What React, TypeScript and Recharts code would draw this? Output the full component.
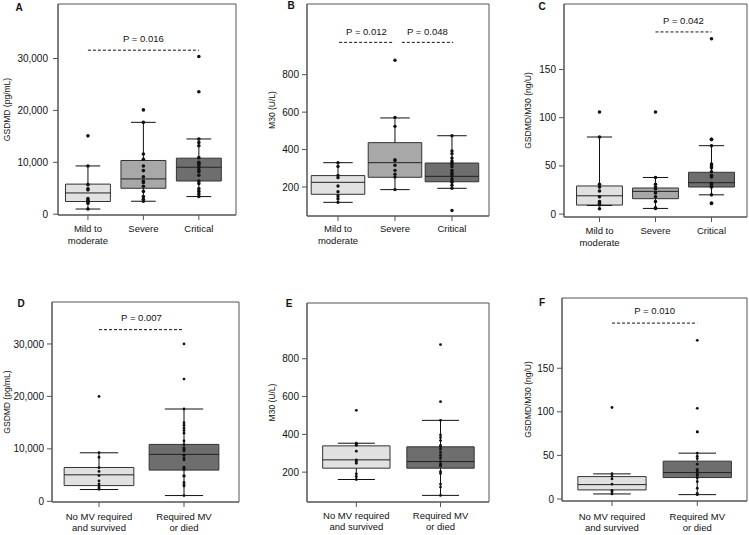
import React from "react";
import {
  ComposedChart,
  XAxis,
  YAxis,
  Scatter,
  ReferenceArea,
  ReferenceLine,
} from "recharts";

const severityGroups = ["Mild to\nmoderate", "Severe", "Critical"];
const outcomeGroups = ["No MV required\nand survived", "Required MV\nor died"];
const severityFills = ["#e1e1e1", "#a8a8a8", "#6e6e6e"];
const outcomeFills = ["#e1e1e1", "#6e6e6e"];

// box stats: [whisker low, Q1, median, Q3, whisker high]
// A - GSDMD (pg/mL) by severity
const gsdmdMild = [15100, 9300, 5700, 4900, 4700, 3000, 2700, 2400, 2100, 1000];
const gsdmdSevere = [20100, 17700, 11600, 10600, 9300, 8400, 7200, 6400, 6100, 5400, 4400, 3400, 2900, 2500];
const gsdmdCritical = [30400, 23600, 14500, 13800, 13200, 10900, 10000, 9800, 9500, 9000, 8500, 8200, 7500, 6400, 5900, 4900, 4400, 3900, 3400];
const gsdmdSeverityBoxes = [
  [1000, 2450, 4100, 5800, 9300],
  [2500, 5000, 6800, 10350, 17700],
  [3400, 6400, 9050, 10800, 14500],
];

// B - M30 (U/L) by severity
const m30Mild = [330, 310, 262, 250, 205, 175, 152, 137, 118];
const m30Severe = [877, 572, 524, 346, 342, 316, 289, 268, 253, 186];
const m30Critical = [474, 392, 378, 355, 339, 330, 320, 308, 289, 277, 268, 257, 243, 234, 225, 210, 193, 74];
const m30SeverityBoxes = [
  [118, 161, 225, 261, 330],
  [186, 252, 330, 437, 569],
  [193, 228, 257, 328, 474],
];

// C - GSDMD/M30 (ng/U) by severity
const ratioMild = [106, 80, 31, 28, 24, 18, 13, 11, 9.4, 5.6];
const ratioSevere = [106, 38, 31, 28, 26, 22, 18, 13, 6.6, 5.9];
const ratioCritical = [182, 77.5, 77.5, 71, 52, 50, 48, 44, 40, 38.5, 32, 30.5, 29, 28, 20, 11.5, 11];
const ratioSeverityBoxes = [
  [9, 9.4, 19, 29.2, 80],
  [5.9, 16, 23.6, 27.1, 38],
  [20, 28.1, 32.6, 43.4, 71],
];

// D - GSDMD (pg/mL) by outcome
const gsdmdNoMv = [20000, 9300, 8400, 6400, 5700, 4900, 3900, 3300, 2900, 2600, 2300];
const gsdmdMv = [30000, 23300, 17600, 15000, 14500, 14000, 13500, 13000, 11500, 10800, 10200, 10000, 9800, 9600, 8800, 8300, 7900, 6500, 6300, 6000, 4900, 4800, 3600, 3200, 2900, 1100];
const gsdmdOutcomeBoxes = [
  [2250, 3000, 5050, 6450, 9250],
  [1100, 5950, 8950, 10850, 17600],
];

// E - M30 (U/L) by outcome
const m30NoMv = [527, 353, 348, 342, 311, 265, 258, 247, 191, 177, 161];
const m30Mv = [875, 573, 474, 397, 383, 367, 342, 334, 321, 304, 288, 274, 256, 242, 237, 232, 202, 193, 137, 121, 77];
const m30OutcomeBoxes = [
  [161, 221, 265, 339, 353],
  [77, 221, 256, 334, 474],
];

// F - GSDMD/M30 (ng/U) by outcome
const ratioNoMv = [105, 29, 26, 23, 17, 10, 8.4, 5.8];
const ratioMv = [182, 104, 77, 77, 52.6, 49, 46.4, 39.9, 34, 32, 30.3, 28.4, 26.5, 24, 20, 12.3, 6.5, 5];
const ratioOutcomeBoxes = [
  [5.8, 10.4, 16.5, 25.7, 28.8],
  [5, 24.6, 30.3, 43.4, 52.6],
];

type Bracket = { from: number; to: number; y: number; text: string; offset: number };

type PanelSpec = {
  letter: string;
  letterPos: [number, number];
  left: number;
  top: number;
  width: number;
  height: number;
  mTop: number;
  mRight: number;
  yWidth: number;
  xHeight: number;
  xDomain: [number, number];
  yDomain: [number, number];
  yTicks: number[];
  yLabel: string;
  yLabelX: number;
  yTickMargin: number;
  groups: string[];
  fills: string[];
  points: number[][];
  boxes: number[][];
  brackets: Bracket[];
  boxHalf: number;
  dotR: number;
  catDy: number;
  catGap: number;
};

const ink = "#111";
const frame = "#555";

const panels: PanelSpec[] = [
  {
    letter: "A", letterPos: [19, 7],
    left: 0, top: 0, width: 245, height: 262, mTop: 4, mRight: 9, yWidth: 58, xHeight: 47,
    xDomain: [0.46, 3.67], yDomain: [-150, 40500], yTicks: [0, 10000, 20000, 30000],
    yLabel: "GSDMD (pg/mL)", yLabelX: 7, yTickMargin: 5,
    groups: severityGroups, fills: severityFills,
    points: [gsdmdMild, gsdmdSevere, gsdmdCritical], boxes: gsdmdSeverityBoxes,
    brackets: [{ from: 1, to: 3, y: 31600, text: "P = 0.016", offset: 8 }],
    boxHalf: 0.405, dotR: 1.8, catDy: 9.5, catGap: 12,
  },
  {
    letter: "B", letterPos: [291, 5],
    left: 250, top: 0, width: 245, height: 262, mTop: 4, mRight: 6, yWidth: 57, xHeight: 46,
    xDomain: [0.456, 3.65], yDomain: [45, 1178], yTicks: [200, 400, 600, 800],
    yLabel: "M30 (U/L)", yLabelX: 22, yTickMargin: 3,
    groups: severityGroups, fills: severityFills,
    points: [m30Mild, m30Severe, m30Critical], boxes: m30SeverityBoxes,
    brackets: [
      { from: 1.02, to: 1.98, y: 973, text: "P = 0.012", offset: 7 },
      { from: 2.12, to: 3.02, y: 973, text: "P = 0.048", offset: 7 },
    ],
    boxHalf: 0.47, dotR: 1.7, catDy: 8.5, catGap: 12,
  },
  {
    letter: "C", letterPos: [542, 6],
    left: 500, top: 0, width: 249, height: 262, mTop: 4, mRight: 2, yWidth: 64, xHeight: 45,
    xDomain: [0.366, 3.634], yDomain: [-3, 218], yTicks: [0, 50, 100, 150],
    yLabel: "GSDMD/M30 (ng/U)", yLabelX: 28, yTickMargin: 3,
    groups: severityGroups, fills: severityFills,
    points: [ratioMild, ratioSevere, ratioCritical], boxes: ratioSeverityBoxes,
    brackets: [{ from: 2, to: 3, y: 189, text: "P = 0.042", offset: 8 }],
    boxHalf: 0.41, dotR: 1.8, catDy: 9.5, catGap: 12,
  },
  {
    letter: "D", letterPos: [21, 303],
    left: 0, top: 265, width: 245, height: 270, mTop: 37, mRight: 6, yWidth: 52, xHeight: 33,
    xDomain: [0.447, 2.647], yDomain: [-130, 38000], yTicks: [0, 10000, 20000, 30000],
    yLabel: "GSDMD (pg/mL)", yLabelX: 7, yTickMargin: 3,
    groups: outcomeGroups, fills: outcomeFills,
    points: [gsdmdNoMv, gsdmdMv], boxes: gsdmdOutcomeBoxes,
    brackets: [{ from: 1, to: 2, y: 32730, text: "P = 0.007", offset: 9 }],
    boxHalf: 0.41, dotR: 1.4, catDy: 10.7, catGap: 11,
  },
  {
    letter: "E", letterPos: [289, 303],
    left: 250, top: 265, width: 245, height: 270, mTop: 38, mRight: 6, yWidth: 57, xHeight: 33,
    xDomain: [0.414, 2.576], yDomain: [42, 1095], yTicks: [200, 400, 600, 800],
    yLabel: "M30 (U/L)", yLabelX: 22, yTickMargin: 3,
    groups: outcomeGroups, fills: outcomeFills,
    points: [m30NoMv, m30Mv], boxes: m30OutcomeBoxes,
    brackets: [],
    boxHalf: 0.4, dotR: 1.4, catDy: 10.4, catGap: 11,
  },
  {
    letter: "F", letterPos: [542, 302],
    left: 500, top: 265, width: 249, height: 270, mTop: 33, mRight: 2, yWidth: 62, xHeight: 34,
    xDomain: [0.414, 2.583], yDomain: [-2.3, 230.6], yTicks: [0, 50, 100, 150],
    yLabel: "GSDMD/M30 (ng/U)", yLabelX: 28, yTickMargin: 3,
    groups: outcomeGroups, fills: outcomeFills,
    points: [ratioNoMv, ratioMv], boxes: ratioOutcomeBoxes,
    brackets: [{ from: 1, to: 2, y: 201.8, text: "P = 0.010", offset: 9 }],
    boxHalf: 0.4, dotR: 1.4, catDy: 12, catGap: 11,
  },
];

function Panel({ s }: { s: PanelSpec }) {
  const pts = s.points.flatMap((vals, i) => vals.map((v) => ({ x: i + 1, y: v })));
  const plotH = s.height - s.mTop - s.xHeight;
  const labelY = s.mTop + plotH / 2;
  const cap = s.boxHalf * 0.55;
  const catTicks = s.groups.map((_, i) => i + 1);

  return (
    <div style={{ position: "absolute", left: s.left, top: s.top }}>
      <ComposedChart
        width={s.width}
        height={s.height}
        margin={{ top: s.mTop, right: s.mRight, bottom: 0, left: 0 }}
      >
        <XAxis
          type="number"
          dataKey="x"
          domain={s.xDomain}
          ticks={catTicks}
          interval={0}
          allowDataOverflow
          height={s.xHeight}
          tickSize={5}
          tickMargin={2}
          stroke={frame}
          tick={(p: any) => {
            const lines = s.groups[Math.round(p.payload.value) - 1].split("\n");
            return (
              <text x={p.x} y={p.y} textAnchor="middle" fontSize={9.5} fill={ink}>
                {lines.map((l, i) => (
                  <tspan key={i} x={p.x} dy={i === 0 ? s.catDy : s.catGap}>
                    {l}
                  </tspan>
                ))}
              </text>
            );
          }}
        />
        <YAxis
          type="number"
          dataKey="y"
          domain={s.yDomain}
          ticks={s.yTicks}
          allowDataOverflow
          width={s.yWidth}
          tickSize={5}
          tickMargin={s.yTickMargin}
          stroke={frame}
          tick={{ fill: ink, fontSize: 10 }}
          tickFormatter={(v: number) => v.toLocaleString("en-US")}
          label={() => (
            <text
              x={s.yLabelX}
              y={labelY}
              transform={`rotate(-90 ${s.yLabelX} ${labelY})`}
              textAnchor="middle"
              dominantBaseline="central"
              fontSize={8.5}
              fill={ink}
            >
              {s.yLabel}
            </text>
          )}
        />

        {/* plot frame */}
        <ReferenceArea
          x1={s.xDomain[0]}
          x2={s.xDomain[1]}
          y1={s.yDomain[0]}
          y2={s.yDomain[1]}
          fill="none"
          stroke={frame}
          fillOpacity={0}
        />

        {s.boxes.map(([lo, q1, med, q3, hi], i) => {
          const x = i + 1;
          return (
            <React.Fragment key={`box-${i}`}>
              <ReferenceLine segment={[{ x, y: lo }, { x, y: q1 }]} stroke={ink} />
              <ReferenceLine segment={[{ x, y: q3 }, { x, y: hi }]} stroke={ink} />
              <ReferenceLine segment={[{ x: x - cap, y: lo }, { x: x + cap, y: lo }]} stroke={ink} />
              <ReferenceLine segment={[{ x: x - cap, y: hi }, { x: x + cap, y: hi }]} stroke={ink} />
              <ReferenceArea
                x1={x - s.boxHalf}
                x2={x + s.boxHalf}
                y1={q1}
                y2={q3}
                fill={s.fills[i]}
                fillOpacity={1}
                stroke="#333"
              />
              <ReferenceLine
                segment={[{ x: x - s.boxHalf, y: med }, { x: x + s.boxHalf, y: med }]}
                stroke="#222"
              />
            </React.Fragment>
          );
        })}

        {s.brackets.map((b, i) => (
          <ReferenceLine
            key={`p-${i}`}
            segment={[{ x: b.from, y: b.y }, { x: b.to, y: b.y }]}
            stroke="#111"
            strokeDasharray="3 2"
            label={{ value: b.text, position: "top", offset: b.offset, fontSize: 9.5, fill: ink }}
          />
        ))}

        <Scatter
          data={pts}
          dataKey="y"
          isAnimationActive={false}
          shape={(p: any) => <circle cx={p.cx} cy={p.cy} r={s.dotR} fill="#111" />}
        />
      </ComposedChart>
    </div>
  );
}

export default function App() {
  return (
    <div
      style={{
        position: "absolute",
        left: 0,
        top: 0,
        width: 749,
        height: 535,
        background: "#fff",
        fontFamily: "'Liberation Sans', Arial, sans-serif",
      }}
    >
      {panels.map((s) => (
        <Panel key={s.letter} s={s} />
      ))}
      {panels.map((s) => (
        <div
          key={`l-${s.letter}`}
          style={{
            position: "absolute",
            left: s.letterPos[0],
            top: s.letterPos[1],
            transform: "translate(-50%, -50%)",
            fontSize: 10,
            fontWeight: "bold",
            color: "#111",
          }}
        >
          {s.letter}
        </div>
      ))}
    </div>
  );
}
